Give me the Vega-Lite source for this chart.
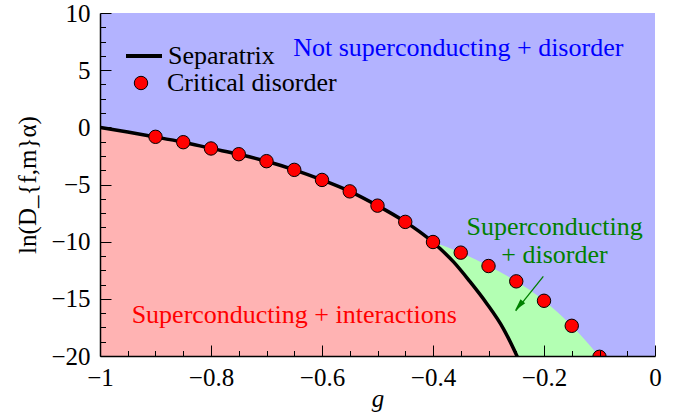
{
  "$schema": "https://vega.github.io/schema/vega-lite/v6.json",
  "width": 555,
  "height": 343,
  "autosize": {"type": "none"},
  "padding": {"left": 100, "top": 13, "right": 27, "bottom": 63},
  "background": "white",
  "view": {"fill": "#b3b3ff", "stroke": null},
  "config": {
    "font": "Liberation Serif",
    "text": {"font": "Liberation Serif"},
    "axis": {"labelFont": "Liberation Serif", "titleFont": "Liberation Serif"},
    "legend": {"labelFont": "Liberation Serif", "labelFontSize": 26, "labelColor": "black", "padding": 0, "labelLimit": 0}
  },
  "datasets": {
    "sep": [
      {"g": -1, "y": 0.0},
      {"g": -0.95, "y": -0.41},
      {"g": -0.9, "y": -0.84},
      {"g": -0.85, "y": -1.3},
      {"g": -0.8, "y": -1.84},
      {"g": -0.75, "y": -2.36},
      {"g": -0.7, "y": -2.97},
      {"g": -0.65, "y": -3.72},
      {"g": -0.6, "y": -4.6},
      {"g": -0.55, "y": -5.6},
      {"g": -0.5, "y": -6.85},
      {"g": -0.45, "y": -8.27},
      {"g": -0.425, "y": -9.1},
      {"g": -0.4, "y": -10.05},
      {"g": -0.3874, "y": -10.6},
      {"g": -0.3634, "y": -11.75},
      {"g": -0.3333, "y": -13.5},
      {"g": -0.3033, "y": -15.4},
      {"g": -0.2733, "y": -17.6},
      {"g": -0.2492, "y": -19.95},
      {"g": -0.245, "y": -20.4}
    ],
    "crit": [
      {"g": -0.9, "y": -0.83},
      {"g": -0.85, "y": -1.3},
      {"g": -0.8, "y": -1.85},
      {"g": -0.75, "y": -2.35},
      {"g": -0.7, "y": -2.96},
      {"g": -0.65, "y": -3.72},
      {"g": -0.6, "y": -4.6},
      {"g": -0.55, "y": -5.6},
      {"g": -0.5, "y": -6.85},
      {"g": -0.45, "y": -8.27},
      {"g": -0.4, "y": -10.03},
      {"g": -0.35, "y": -10.96},
      {"g": -0.3, "y": -12.13},
      {"g": -0.25, "y": -13.47},
      {"g": -0.2, "y": -15.17},
      {"g": -0.15, "y": -17.36},
      {"g": -0.1, "y": -20.07}
    ]
  },
  "encoding": {
    "x": {
      "field": "g", "type": "quantitative",
      "scale": {"domain": [-1, 0], "nice": false, "zero": false},
      "axis": {
        "title": "g", "titleFont": "Liberation Serif", "titleFontStyle": "italic", "titleFontWeight": "normal", "titleFontSize": 25, "titleColor": "black",
        "titleY": 50, "titleBaseline": "alphabetic",
        "values": [-1, -0.95, -0.9, -0.85, -0.8, -0.75, -0.7, -0.65, -0.6, -0.55, -0.5, -0.45, -0.4, -0.35, -0.3, -0.25, -0.2, -0.15, -0.1, -0.05, 0],
        "labelExpr": "abs(datum.value*5 - round(datum.value*5)) < 0.001 ? format(datum.value, '~g') : ''",
        "labelFlush": false, "labelOverlap": false, "labelBound": false,
        "labelFont": "Liberation Serif", "labelFontSize": 25, "labelColor": "black", "labelPadding": 20, "labelBaseline": "top",
        "tickSize": {"condition": {"test": "abs(datum.value*5 - round(datum.value*5)) < 0.001", "value": -11}, "value": -5.5},
        "tickColor": "black", "tickWidth": 1, "domainColor": "black", "domainWidth": 1.5, "grid": false, "zindex": 1
      }
    },
    "y": {
      "field": "y", "type": "quantitative",
      "scale": {"domain": [-20, 10], "nice": false, "zero": false},
      "axis": {
        "title": "ln(D_{f,m}α)", "titleFont": "Liberation Serif", "titleFontWeight": "normal", "titleFontSize": 25, "titleColor": "black",
        "titleX": -65, "titleBaseline": "alphabetic",
        "values": [-20, -18.75, -17.5, -16.25, -15, -13.75, -12.5, -11.25, -10, -8.75, -7.5, -6.25, -5, -3.75, -2.5, -1.25, 0, 1.25, 2.5, 3.75, 5, 6.25, 7.5, 8.75, 10],
        "labelExpr": "abs(datum.value/5 - round(datum.value/5)) < 0.001 ? format(datum.value, '~g') : ''",
        "labelFlush": false, "labelOverlap": false, "labelBound": false,
        "labelFont": "Liberation Serif", "labelFontSize": 25, "labelColor": "black", "labelPadding": 21,
        "tickSize": {"condition": {"test": "abs(datum.value/5 - round(datum.value/5)) < 0.001", "value": -11}, "value": -5.5},
        "tickColor": "black", "tickWidth": 1, "domainColor": "black", "domainWidth": 1.5, "grid": false, "zindex": 1
      }
    }
  },
  "layer": [
    {
      "data": {"name": "crit"},
      "transform": [{"filter": "datum.g >= -0.4"}],
      "mark": {"type": "area", "color": "#b3ffb3", "interpolate": "monotone", "clip": true},
      "encoding": {"y2": {"datum": -20}}
    },
    {
      "data": {"name": "sep"},
      "mark": {"type": "area", "color": "#ffb3b3", "interpolate": "monotone", "clip": true},
      "encoding": {"y2": {"datum": -20}}
    },
    {
      "data": {"name": "sep"},
      "mark": {"type": "line", "strokeWidth": 3.5, "interpolate": "monotone", "clip": true},
      "encoding": {
        "color": {
          "datum": "Separatrix",
          "scale": {"domain": ["Separatrix"], "range": ["black"]},
          "legend": {"orient": "none", "legendX": 24, "legendY": 23, "title": null, "symbolType": "stroke", "symbolSize": 1296, "symbolStrokeWidth": 4, "labelOffset": 4, "padding": 0, "labelFont": "Liberation Serif", "labelLimit": 0}
        }
      }
    },
    {
      "data": {"name": "crit"},
      "mark": {"type": "point", "shape": "circle", "filled": true, "size": 180, "stroke": "black", "strokeWidth": 1, "opacity": 1, "clip": true},
      "encoding": {
        "fill": {
          "datum": "Critical disorder",
          "scale": {"domain": ["Critical disorder"], "range": ["red"]},
          "legend": {"orient": "none", "legendX": 28, "legendY": 57, "title": null, "symbolType": "circle", "symbolSize": 180, "symbolStrokeColor": "black", "symbolStrokeWidth": 1, "symbolOpacity": 1, "labelOffset": 13, "padding": 0, "labelFont": "Liberation Serif", "labelLimit": 0}
        }
      }
    },
    {
      "data": {"values": [{"g": -0.652, "y": 6.24, "text": "Not superconducting + disorder"}]},
      "mark": {"type": "text", "font": "Liberation Serif", "align": "left", "baseline": "alphabetic", "fontSize": 26, "color": "#0000ff"},
      "encoding": {"text": {"field": "text"}}
    },
    {
      "data": {"values": [{"g": -0.943, "y": -17.14, "text": "Superconducting + interactions"}]},
      "mark": {"type": "text", "font": "Liberation Serif", "align": "left", "baseline": "alphabetic", "fontSize": 26, "color": "#ff0000"},
      "encoding": {"text": {"field": "text"}}
    },
    {
      "data": {"values": [{"g": -0.181, "y": -9.42, "text": "Superconducting"}, {"g": -0.181, "y": -11.89, "text": "+ disorder"}]},
      "mark": {"type": "text", "font": "Liberation Serif", "align": "center", "baseline": "alphabetic", "fontSize": 26, "color": "#008000"},
      "encoding": {"text": {"field": "text"}}
    },
    {
      "data": {"values": [{"g": -0.2012, "y": -13.04, "g2": -0.251, "y2": -16.05}]},
      "mark": {"type": "rule", "color": "#008000", "strokeWidth": 1.3},
      "encoding": {"x2": {"field": "g2"}, "y2": {"field": "y2"}}
    },
    {
      "data": {"values": [{"g": -0.2452, "y": -15.62}]},
      "mark": {"type": "point", "shape": "M0,-1L0.5,1L-0.5,1Z", "angle": 220, "size": 150, "filled": true, "color": "#008000", "opacity": 1}
    }
  ]
}
